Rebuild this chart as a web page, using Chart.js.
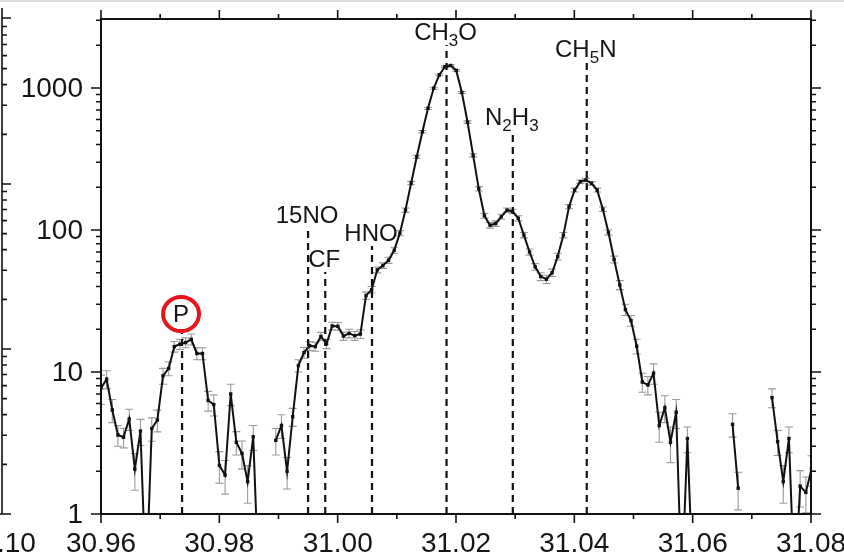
<!DOCTYPE html>
<html>
<head>
<meta charset="utf-8">
<script src="https://cdn.jsdelivr.net/npm/chart.js@4.4.1/dist/chart.umd.min.js"></script>
<style>
    html, body { margin: 0; padding: 0; background: #fff; }
    #wrap { width: 844px; height: 557px; position: relative; }
</style>
</head>
<body>
<div id="wrap"><canvas id="spectrum" width="844" height="557"></canvas></div>
<script>

// ==========================================
// Data
// ==========================================

const massAxis = [
    30.96000, 30.96095, 30.96191, 30.96286, 30.96381, 30.96477, 30.96572, 30.96667, 30.96762, 30.96858,
    30.96953, 30.97048, 30.97144, 30.97239, 30.97334, 30.97430, 30.97525, 30.97620, 30.97715, 30.97811,
    30.97906, 30.98001, 30.98097, 30.98192, 30.98287, 30.98383, 30.98478, 30.98573, 30.98668, 30.98764,
    30.98859, 30.98954, 30.99050, 30.99145, 30.99240, 30.99336, 30.99431, 30.99526, 30.99621, 30.99717,
    30.99812, 30.99907, 31.00003, 31.00098, 31.00193, 31.00289, 31.00384, 31.00479, 31.00574, 31.00670,
    31.00765, 31.00860, 31.00956, 31.01051, 31.01146, 31.01242, 31.01337, 31.01432, 31.01527, 31.01623,
    31.01718, 31.01813, 31.01909, 31.02004, 31.02099, 31.02195, 31.02290, 31.02385, 31.02480, 31.02576,
    31.02671, 31.02766, 31.02862, 31.02957, 31.03052, 31.03148, 31.03243, 31.03338, 31.03433, 31.03529,
    31.03624, 31.03719, 31.03815, 31.03910, 31.04005, 31.04101, 31.04196, 31.04291, 31.04386, 31.04482,
    31.04577, 31.04672, 31.04768, 31.04863, 31.04958, 31.05054, 31.05149, 31.05244, 31.05339, 31.05435,
    31.05530, 31.05625, 31.05721, 31.05816, 31.05911, 31.06007, 31.06102, 31.06197, 31.06292, 31.06388,
    31.06483, 31.06578, 31.06674, 31.06769, 31.06864, 31.06960, 31.07055, 31.07150, 31.07245, 31.07341,
    31.07436, 31.07531, 31.07627, 31.07722, 31.07817, 31.07913, 31.08008
];

// null = no data (gap), 0.3 = below the axis floor
const counts = [
    7.7, 8.9, 5.4, 3.6, 3.47, 4.67, 2.07, 3.84, 0.3, 4.0,
    4.59, 9.4, 10.6, 15.1, 15.7, 16.1, 17.0, 13.5, 13.5, 6.3,
    5.9, 2.2, 1.88, 7.0, 3.2, 2.67, 1.69, 3.5, 0.3, null,
    null, 3.3, 4.2, 2.0, 4.84, 11.1, 13.7, 15.3, 15.1, 17.8,
    15.8, 21.1, 21.0, 17.9, 18.7, 18.0, 18.5, 34.5, 38, 52.4,
    56.2, 61.2, 72, 95, 138, 214, 328, 492, 719, 995,
    1236, 1410, 1440, 1330, 930, 575, 335, 195, 126, 108,
    111, 124, 138, 135, 121, 92, 70, 55, 47, 45,
    50, 65, 92, 146, 191, 219, 225, 213, 191, 140,
    96, 62, 41, 27.5, 23, 15.2, 8.5, 8.1, 9.8, 4.2,
    5.6, 3.2, 5.2, 0.3, 3.4, 0.3, null, null, null, null,
    null, null, 4.28, 1.52, null, null, null, null, null, 6.6,
    3.23, 1.69, 3.4, 0.3, 1.57, 1.42, 2.07
];

const countErr = [
    1.8, 1.3, 1.0, 0.6, 0.55, 0.8, 0.6, 0.8, null, 0.75,
    0.8, 1.2, 1.2, 1.3, 1.3, 1.3, 1.5, 1.3, 1.3, 1.0,
    1.0, 0.55, 0.5, 1.2, 0.6, 0.6, 0.5, 0.7, null, null,
    null, 0.7, 0.8, 0.5, 0.7, 1.1, 1.2, 1.1, 1.1, 1.2,
    1.2, 1.3, 1.3, 1.2, 1.3, 1.3, 1.3, 2, 2, 2.5,
    2.5, 3, 3.5, 4, 5, 6, 8, 10, 13, 16,
    18, 20, 20, 19, 15, 12, 9, 7, 5, 5,
    5, 5, 5, 5, 5, 4, 3.5, 3, 3, 3,
    3, 3.5, 4, 5, 6, 6, 6, 6, 6, 5,
    4, 3.5, 3, 2.5, 2, 1.8, 1.3, 1.2, 1.6, 1.0,
    1.2, 0.9, 1.2, null, 0.7, null, null, null, null, null,
    null, null, 0.8, 0.45, null, null, null, null, null, 1.0,
    0.65, 0.5, 0.7, null, 0.45, 0.4, 0.5
];

const xTickValues = [30.96, 30.98, 31.00, 31.02, 31.04, 31.06, 31.08];
const xTickLabels = ["30.96", "30.98", "31.00", "31.02", "31.04", "31.06", "31.08"];
const xMinorTicks = [30.97, 30.99, 31.01, 31.03, 31.05, 31.07];

const yTickValues = [1, 10, 100, 1000];
const yTickLabels = ["1", "10", "100", "1000"];

// peak assignments: [text, isSubscript] pieces
const peakLabels = [
    [["P", 0]],
    [["15NO", 0]],
    [["CF", 0]],
    [["HNO", 0]],
    [["CH", 0], ["3", 1], ["O", 0]],
    [["N", 0], ["2", 1], ["H", 0], ["3", 1]],
    [["CH", 0], ["5", 1], ["N", 0]]
];
const peakMasses = [30.9737, 30.9950, 30.9979, 31.0058, 31.0184, 31.0296, 31.0421];
const peakTops = [18.8, 103, 50.6, 77, 2010, 506, 1525];


// ==========================================
// Drawing helpers
// ==========================================

const FONT = '"Liberation Sans", Arial, sans-serif';
const INK = "#151515";

function drawLabel(ctx, pieces, cx, baseline) {

    let width = 0;

    pieces.forEach(p => {
        ctx.font = (p[1] ? "17px " : "24px ") + FONT;
        width += ctx.measureText(p[0]).width;
    });

    let x = cx - width / 2;

    ctx.textAlign = "left";
    ctx.textBaseline = "alphabetic";
    ctx.fillStyle = INK;

    pieces.forEach(p => {
        ctx.font = (p[1] ? "17px " : "24px ") + FONT;
        ctx.fillText(p[0], x, baseline + (p[1] ? 6 : 0));
        x += ctx.measureText(p[0]).width;
    });

}

const spectrumDecor = {

    id: "spectrumDecor",

    beforeDatasetsDraw(chart) {

        const ctx = chart.ctx;
        const xs = chart.scales.x;
        const ys = chart.scales.y;
        const area = chart.chartArea;

        ctx.save();
        ctx.beginPath();
        ctx.rect(area.left, area.top, area.right - area.left, area.bottom - area.top);
        ctx.clip();

        // error bars
        ctx.strokeStyle = "#9a9a9a";
        ctx.lineWidth = 1.1;

        counts.forEach((v, i) => {

            const e = countErr[i];
            if (v === null || e === null) return;

            const px = xs.getPixelForValue(massAxis[i]);
            const top = ys.getPixelForValue(v + e);
            const bot = v - e > 0 ? ys.getPixelForValue(v - e) : area.bottom + 5;

            ctx.beginPath();
            ctx.moveTo(px, top);
            ctx.lineTo(px, bot);
            ctx.moveTo(px - 4, top);
            ctx.lineTo(px + 4, top);
            ctx.moveTo(px - 4, bot);
            ctx.lineTo(px + 4, bot);
            ctx.stroke();

        });

        // assignment lines
        ctx.strokeStyle = "#111";
        ctx.lineWidth = 2.2;
        ctx.setLineDash([7, 5]);

        peakMasses.forEach((m, i) => {
            const px = xs.getPixelForValue(m);
            ctx.beginPath();
            ctx.moveTo(px, area.bottom);
            ctx.lineTo(px, ys.getPixelForValue(peakTops[i]));
            ctx.stroke();
        });

        ctx.restore();

    },

    afterDatasetsDraw(chart) {

        const ctx = chart.ctx;
        const xs = chart.scales.x;
        const ys = chart.scales.y;

        ctx.save();

        peakMasses.forEach((m, i) => {

            const px = xs.getPixelForValue(m);
            const top = ys.getPixelForValue(peakTops[i]);

            if (i === 0) {
                // circled P
                ctx.beginPath();
                ctx.ellipse(px - 1, top - 19, 18, 17, 0, 0, Math.PI * 2);
                ctx.strokeStyle = "#e8141c";
                ctx.lineWidth = 4;
                ctx.stroke();
                drawLabel(ctx, peakLabels[i], px - 1, top - 11);
                return;
            }

            drawLabel(ctx, peakLabels[i], px - 1, top - 5);

        });

        ctx.restore();

    },

    afterDraw(chart) {

        const ctx = chart.ctx;
        const xs = chart.scales.x;
        const ys = chart.scales.y;
        const a = chart.chartArea;

        ctx.save();

        // page edge line
        ctx.strokeStyle = "#dcdcdc";
        ctx.lineWidth = 2;
        ctx.beginPath();
        ctx.moveTo(0, 1);
        ctx.lineTo(844, 1);
        ctx.stroke();

        // frame
        ctx.strokeStyle = "#111";
        ctx.lineWidth = 2;
        ctx.strokeRect(a.left, a.top, a.right - a.left, a.bottom - a.top);

        ctx.lineWidth = 1.6;
        ctx.beginPath();

        // x ticks, bottom and top
        xTickValues.forEach(v => {
            const px = xs.getPixelForValue(v);
            ctx.moveTo(px, a.bottom);
            ctx.lineTo(px, a.bottom + 9);
            ctx.moveTo(px, a.top);
            ctx.lineTo(px, a.top - 9);
        });

        xMinorTicks.forEach(v => {
            const px = xs.getPixelForValue(v);
            ctx.moveTo(px, a.bottom);
            ctx.lineTo(px, a.bottom + 5);
            ctx.moveTo(px, a.top);
            ctx.lineTo(px, a.top - 5);
        });

        // y ticks, left and right
        for (let dec = 1; dec <= 1000; dec *= 10) {
            for (let k = 1; k <= 9; k++) {
                const v = dec * k;
                if (v > ys.max) continue;
                const py = ys.getPixelForValue(v);
                const len = k === 1 ? 10 : 5;
                ctx.moveTo(a.left, py);
                ctx.lineTo(a.left - len, py);
                ctx.moveTo(a.right, py);
                ctx.lineTo(a.right + len, py);
            }
        }

        // neighbouring panel's axis on the far left
        const decade = 165;
        ctx.moveTo(2, 8);
        ctx.lineTo(2, a.bottom);
        for (let d = 0; d < 3; d++) {
            for (let k = 1; k <= 9; k++) {
                const py = a.bottom - decade * (d + Math.log10(k));
                if (py < 10) continue;
                ctx.moveTo(2, py);
                ctx.lineTo(k === 1 ? 11 : 7, py);
            }
        }
        ctx.moveTo(2, a.top - 1);
        ctx.lineTo(11, a.top - 1);
        ctx.moveTo(0, a.bottom);
        ctx.lineTo(11, a.bottom);

        ctx.stroke();

        // tick labels
        ctx.fillStyle = INK;
        ctx.font = "28px " + FONT;

        ctx.textAlign = "center";
        ctx.textBaseline = "alphabetic";
        xTickValues.forEach((v, i) => {
            ctx.fillText(xTickLabels[i], xs.getPixelForValue(v), 552);
        });

        ctx.textAlign = "left";
        ctx.fillText(".10", -3, 552);

        ctx.textAlign = "right";
        ctx.textBaseline = "middle";
        yTickValues.forEach((v, i) => {
            ctx.fillText(yTickLabels[i], 83, ys.getPixelForValue(v) + 1);
        });

        ctx.restore();

    }

};


// ==========================================
// Chart
// ==========================================

const ctx = document.getElementById("spectrum").getContext("2d");

new Chart(ctx, {

    type: "line",

    data: {
        datasets: [{
            data: massAxis.map((m, i) => ({ x: m, y: counts[i] })),
            borderColor: "#111",
            borderWidth: 2,
            pointStyle: "rect",
            pointRadius: 2.4,
            pointBackgroundColor: "#111",
            pointBorderWidth: 0,
            tension: 0,
            spanGaps: false
        }]
    },

    options: {
        responsive: false,
        devicePixelRatio: 1,
        animation: false,
        layout: {
            padding: { left: 101, top: 19, right: 33, bottom: 43 }
        },
        plugins: {
            legend: { display: false },
            tooltip: { enabled: false }
        },
        scales: {
            x: {
                type: "linear",
                min: 30.96,
                max: 31.08,
                display: false
            },
            y: {
                type: "logarithmic",
                min: 1,
                max: 3060,
                display: false
            }
        }
    },

    plugins: [spectrumDecor]

});

</script>
</body>
</html>
